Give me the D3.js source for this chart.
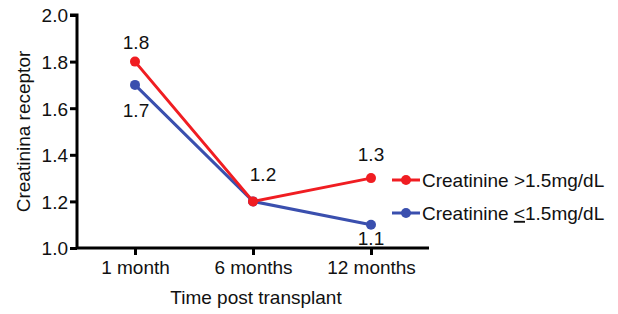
<!DOCTYPE html>
<html>
<head>
<meta charset="utf-8">
<script src="https://cdn.jsdelivr.net/npm/d3@7"></script>
<style>
  body { margin: 0; background: #fff; }
  text { font-family: "Liberation Sans", Arial, sans-serif; fill: #111; }
</style>
</head>
<body>
<svg id="chart" width="618" height="314"></svg>
<script>
// data
const categories = ["1 month", "6 months", "12 months"];
const highValues = [1.8, 1.2, 1.3];   // Creatinine >1.5mg/dL
const lowValues = [1.7, 1.2, 1.1];    // Creatinine <=1.5mg/dL
const yTicks = [1.0, 1.2, 1.4, 1.6, 1.8, 2.0];

const svg = d3.select("#chart");
const fontSize = 19;

/* ------- SCALES -------*/
const x = d3.scalePoint().domain(categories).range([135, 371]);
const y = d3.scaleLinear().domain([1.0, 2.0]).range([248, 15]);
const axisLeft = 77, axisRight = 429;

/* ------- AXES -------*/
const yAxis = svg.append("g")
  .attr("transform", `translate(${axisLeft},0)`)
  .call(d3.axisLeft(y).tickValues(yTicks).tickFormat(d3.format(".1f")).tickSize(7).tickPadding(2));
yAxis.select(".domain").attr("d", `M-7,${y(2)}H0V${y(1)}`);

const xAxis = svg.append("g")
  .attr("transform", `translate(0,${y(1)})`)
  .call(d3.axisBottom(x).tickSize(7).tickPadding(6));
xAxis.select(".domain").attr("d", `M${axisLeft},0H${axisRight}`);

svg.selectAll(".domain").attr("stroke", "#000").attr("stroke-width", 3);
svg.selectAll(".tick line").attr("stroke", "#000").attr("stroke-width", 3);
svg.selectAll(".tick text").attr("font-size", fontSize).style("font-family", "Liberation Sans, Arial, sans-serif").attr("fill", "#111");
yAxis.selectAll(".tick text").attr("dy", "0.36em");

svg.append("text")
  .attr("transform", `translate(30,${(y(1) + y(2)) / 2}) rotate(-90)`)
  .attr("text-anchor", "middle")
  .attr("font-size", fontSize)
  .text("Creatinina receptor");

svg.append("text")
  .attr("x", x("6 months") + 3)
  .attr("y", 304)
  .attr("text-anchor", "middle")
  .attr("font-size", fontSize)
  .text("Time post transplant");

/* ------- SERIES -------*/
const series = [
  { name: "high", values: highValues, color: "#f01d22", labelDy: [-13, -20, -17] },
  { name: "low", values: lowValues, color: "#3a4fae", labelDy: [32, null, 20] }
];

const line = d3.line()
  .x((d, i) => x(categories[i]))
  .y(d => y(d));

// draw blue first so red sits on top
series.slice().reverse().forEach(s => {
  svg.append("path")
    .datum(s.values)
    .attr("fill", "none")
    .attr("stroke", s.color)
    .attr("stroke-width", 3)
    .attr("d", line);

  svg.selectAll(null)
    .data(s.values)
    .enter()
    .append("circle")
    .attr("cx", (d, i) => x(categories[i]))
    .attr("cy", d => y(d))
    .attr("r", 5)
    .attr("fill", s.color);
});

/* ------- VALUE LABELS -------*/
const labelDx = [1, 10, 0];
series.forEach(s => {
  const pts = s.values
    .map((v, i) => ({ v: v, i: i }))
    .filter(p => s.labelDy[p.i] !== null);
  svg.selectAll(null)
    .data(pts)
    .enter()
    .append("text")
    .attr("x", p => x(categories[p.i]) + labelDx[p.i])
    .attr("y", p => y(p.v) + s.labelDy[p.i])
    .attr("text-anchor", "middle")
    .attr("font-size", fontSize)
    .text(p => d3.format(".1f")(p.v));
});

/* ------- LEGEND -------*/
const legend = [
  { label: "Creatinine >1.5mg/dL", color: "#f01d22", y: 180 },
  { label: "Creatinine ", label2: "<", label3: "1.5mg/dL", color: "#3a4fae", y: 213 }
];

legend.forEach(l => {
  const g = svg.append("g").attr("transform", `translate(392,${l.y})`);
  g.append("line").attr("x1", 0).attr("x2", 28).attr("stroke", l.color).attr("stroke-width", 3);
  g.append("circle").attr("cx", 14).attr("r", 5).attr("fill", l.color);
  const t = g.append("text").attr("x", 30).attr("dy", "0.36em").attr("font-size", fontSize);
  if (l.label2) {
    t.append("tspan").text(l.label);
    t.append("tspan").style("text-decoration", "underline").text(l.label2);
    t.append("tspan").text(l.label3);
  } else {
    t.text(l.label);
  }
});
</script>
</body>
</html>
